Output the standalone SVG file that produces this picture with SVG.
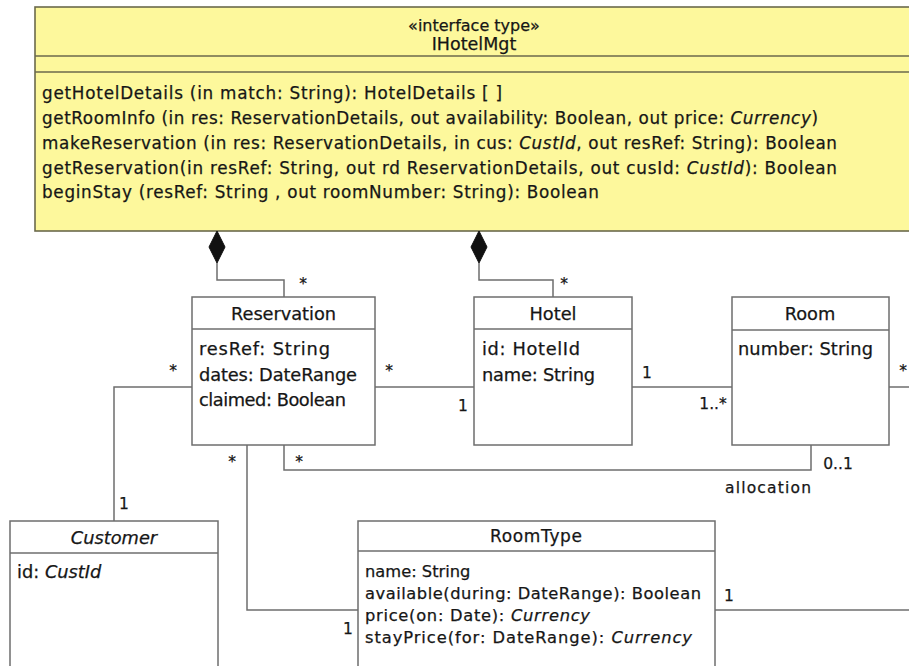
<svg xmlns="http://www.w3.org/2000/svg" width="909" height="666" viewBox="0 0 909 666">
<defs>
<style>
.box{fill:#ffffff;stroke:#6e6e6e;stroke-width:1.5}
.div{stroke:#6e6e6e;stroke-width:1.5;fill:none}
.c{stroke:#6e6e6e;stroke-width:1.5;fill:none}
.t{font-family:"DejaVu Sans","Liberation Sans",sans-serif;fill:#161616;stroke:#161616;stroke-width:0.25}
.m{font-size:16.8px}
.a{font-size:17.8px}
.r{font-size:16.3px}
.s{font-size:15.5px}
.mid{text-anchor:middle}
.i{font-style:italic}
</style>
</defs>
<rect width="909" height="666" fill="#ffffff"/>

<g id="IHotelMgt">
<rect x="35" y="7" width="900" height="224" fill="#fdf89c" stroke="#6b6a4c" stroke-width="1.6"/>
<line x1="35" y1="56" x2="909" y2="56" stroke="#6b6a4c" stroke-width="1.6"/>
<line x1="35" y1="72" x2="909" y2="72" stroke="#6b6a4c" stroke-width="1.6"/>
<text class="t mid" x="474" y="31" font-size="16">«interface type»</text>
<text class="t mid" x="474" y="50" font-size="17.5">IHotelMgt</text>
<text class="t m" x="42" y="99" textLength="460">getHotelDetails (in match: String): HotelDetails [ ]</text>
<text class="t m" x="42" y="124" textLength="776">getRoomInfo (in res: ReservationDetails, out availability: Boolean, out price: <tspan class="i">Currency</tspan>)</text>
<text class="t m" x="42" y="149" textLength="795">makeReservation (in res: ReservationDetails, in cus: <tspan class="i">CustId</tspan>, out resRef: String): Boolean</text>
<text class="t m" x="42" y="174" textLength="795">getReservation(in resRef: String, out rd ReservationDetails, out cusId: <tspan class="i">CustId</tspan>): Boolean</text>
<text class="t m" x="42" y="198" textLength="557">beginStay (resRef: String , out roomNumber: String): Boolean</text>
</g>

<g id="Reservation">
<rect class="box" x="192" y="297" width="183" height="148"/>
<line class="div" x1="192" y1="329" x2="375" y2="329"/>
<text class="t a mid" x="283.5" y="320" textLength="105">Reservation</text>
<text class="t a" x="199" y="355" textLength="131">resRef: String</text>
<text class="t a" x="199" y="381" textLength="158">dates: DateRange</text>
<text class="t a" x="199" y="406" textLength="147">claimed: Boolean</text>
</g>

<g id="Hotel">
<rect class="box" x="474" y="297" width="158" height="148"/>
<line class="div" x1="474" y1="329" x2="632" y2="329"/>
<text class="t a mid" x="553" y="320">Hotel</text>
<text class="t a" x="482" y="355" textLength="98">id: HotelId</text>
<text class="t a" x="482" y="381" textLength="113">name: String</text>
</g>

<g id="Room">
<rect class="box" x="732" y="297" width="157" height="148"/>
<line class="div" x1="732" y1="330" x2="889" y2="330"/>
<text class="t a mid" x="810" y="320">Room</text>
<text class="t a" x="738" y="355" textLength="135">number: String</text>
</g>

<g id="Customer">
<rect class="box" x="10" y="521" width="208" height="170"/>
<line class="div" x1="10" y1="553" x2="218" y2="553"/>
<text class="t a mid i" x="114" y="544">Customer</text>
<text class="t a" x="17" y="578">id: <tspan class="i">CustId</tspan></text>
</g>

<g id="RoomType">
<rect class="box" x="358" y="521" width="357" height="170"/>
<line class="div" x1="358" y1="551" x2="715" y2="551"/>
<text class="t mid" x="536" y="542" font-size="17" textLength="92">RoomType</text>
<text class="t r" x="365" y="577">name: String</text>
<text class="t r" x="365" y="599" textLength="336">available(during: DateRange): Boolean</text>
<text class="t r" x="365" y="621" textLength="225">price(on: Date): <tspan class="i">Currency</tspan></text>
<text class="t r" x="365" y="643" textLength="327">stayPrice(for: DateRange): <tspan class="i">Currency</tspan></text>
</g>

<g id="connectors">
<path class="c" d="M217 263 V280 H284 V297"/>
<path d="M217 231 L225 247 L217 263 L209 247 Z" fill="#111" stroke="#111" stroke-width="1"/>
<path class="c" d="M479 263 V280 H553 V297"/>
<path d="M479 231 L487 247 L479 263 L471 247 Z" fill="#111" stroke="#111" stroke-width="1"/>
<path class="c" d="M375 387 H474"/>
<path class="c" d="M632 387 H732"/>
<path class="c" d="M889 387 H912"/>
<path class="c" d="M192 387 H114 V521"/>
<path class="c" d="M247 445 V610 H358"/>
<path class="c" d="M284 445 V470 H811 V445"/>
<path class="c" d="M715 610 H912"/>
<text class="t s mid" x="303" y="289">*</text>
<text class="t s mid" x="564" y="289">*</text>
<text class="t s mid" x="389" y="376">*</text>
<text class="t s mid" x="463" y="411">1</text>
<text class="t s mid" x="647" y="378">1</text>
<text class="t s mid" x="713" y="409">1..*</text>
<text class="t s mid" x="903" y="376">*</text>
<text class="t s mid" x="173" y="376">*</text>
<text class="t s mid" x="124" y="509">1</text>
<text class="t s mid" x="232" y="467">*</text>
<text class="t s mid" x="299" y="467">*</text>
<text class="t s mid" x="838" y="469">0..1</text>
<text class="t s mid" x="768" y="493" textLength="86">allocation</text>
<text class="t s mid" x="348" y="634">1</text>
<text class="t s mid" x="729" y="601">1</text>
</g>
</svg>
